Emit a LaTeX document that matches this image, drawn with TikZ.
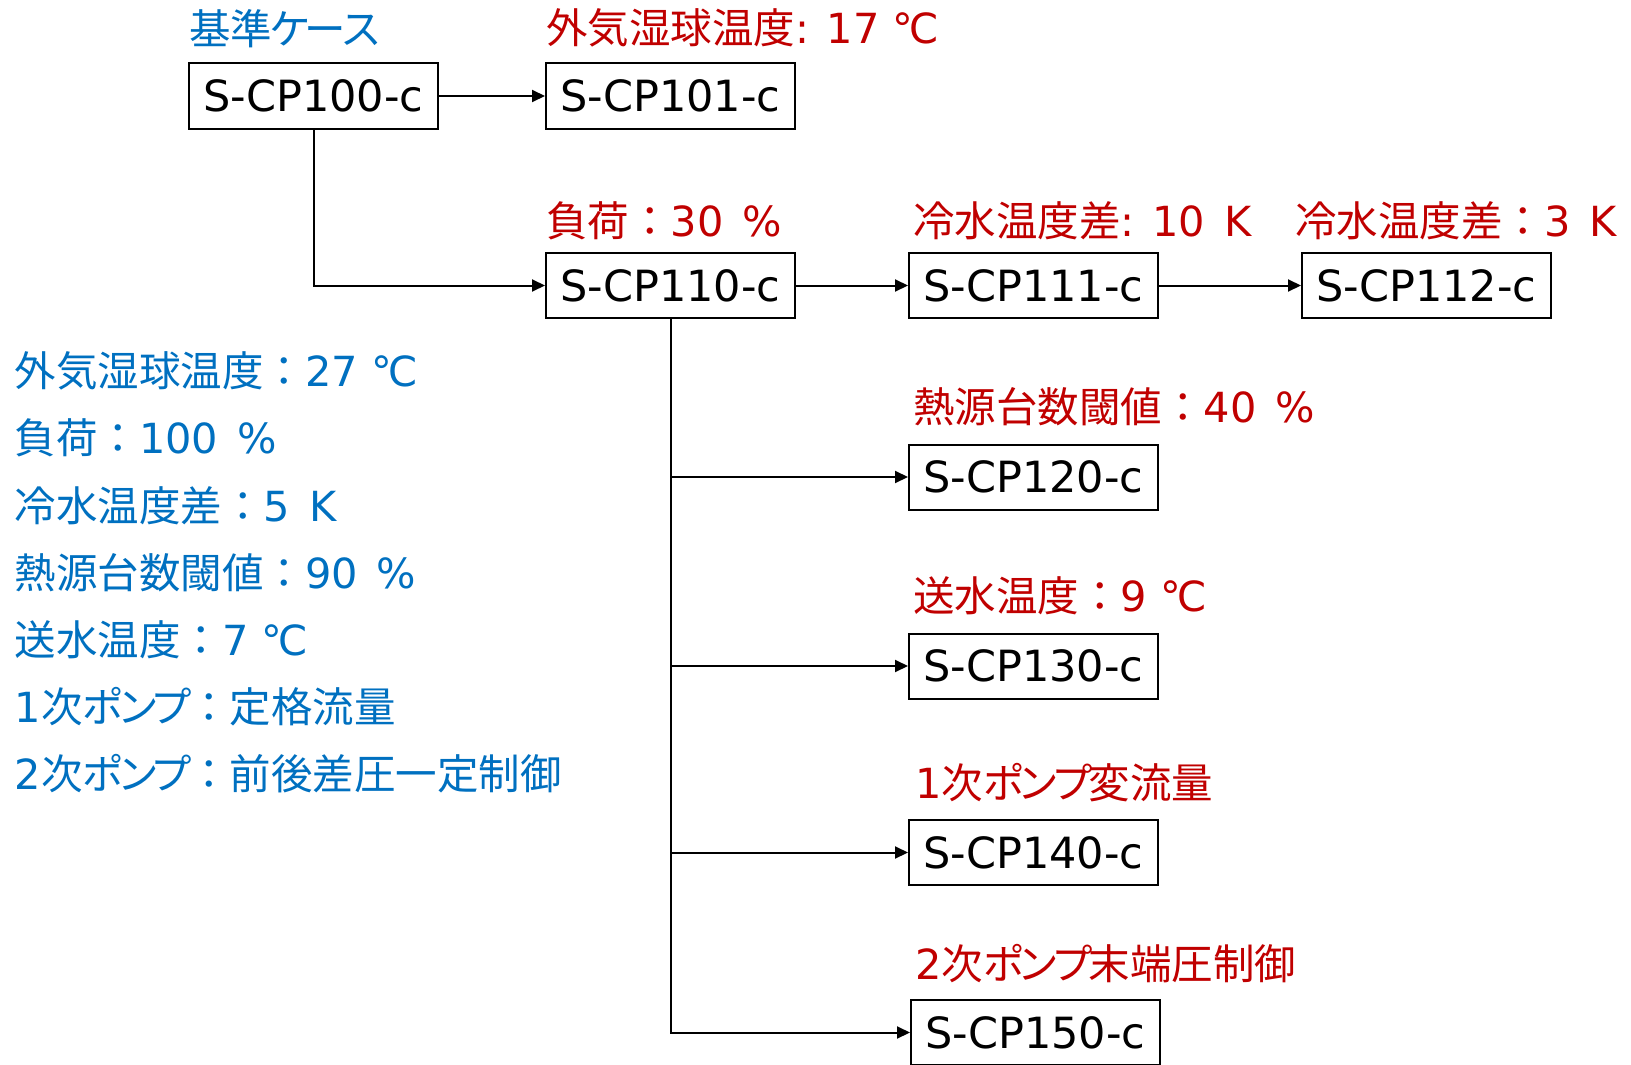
\documentclass[tikz,border=0pt]{standalone}
\usepackage{fontspec}
\setmainfont{Noto Sans CJK JP}
\newfontfamily\lat{DejaVu Sans}
\usetikzlibrary{arrows.meta}
\definecolor{lblblue}{HTML}{0070C0}
\definecolor{lblred}{HTML}{C00000}
\newcommand{\latp}[1]{{\lat #1}}
\newcommand{\wsp}{\hspace{19pt}}
\newcommand{\pump}{ポ\kern-7ptン\kern-8ptプ\kern-4pt}
\tikzset{
  casebox/.style={draw=black, line width=2pt, fill=white, minimum width=249pt, minimum height=65pt, inner sep=0pt, font=\lat\fontsize{43}{50}\selectfont},
  conn/.style={line width=2pt, -{Triangle[length=13pt,width=12pt]}},
  redlbl/.style={anchor=west, inner sep=0pt, text=lblred, font=\fontsize{41.5}{48}\selectfont},
  bluelbl/.style={anchor=west, inner sep=0pt, text=lblblue, font=\fontsize{41.5}{48}\selectfont}
}
\begin{document}
\begin{tikzpicture}[x=1pt,y=-1pt]
\useasboundingbox (0,0) rectangle (1631,1065);
% boxes
\node[casebox] (b100) at (313.5,96) {S-CP100-c};
\node[casebox] (b101) at (670.5,96) {S-CP101-c};
\node[casebox] (b110) at (670.5,285.5) {S-CP110-c};
\node[casebox] (b111) at (1033.5,285.5) {S-CP111-c};
\node[casebox] (b112) at (1426.5,285.5) {S-CP112-c};
\node[casebox] (b120) at (1033.5,477) {S-CP120-c};
\node[casebox] (b130) at (1033.5,666) {S-CP130-c};
\node[casebox] (b140) at (1033.5,852.5) {S-CP140-c};
\node[casebox] (b150) at (1035.5,1032.5) {S-CP150-c};
% labels
\node[bluelbl] (lbase) at (189,28.5) {基準\kern-3ptケ\kern-6ptー\kern-6ptス};
\node[redlbl] (l101) at (546,28) {外気湿球温度\latp{: 17 ℃}};
\node[redlbl] (l110) at (546,221) {負荷：\latp{30\wsp\%}};
\node[redlbl] (l111) at (913,221) {冷水温度差\latp{: 10\wsp K}};
\node[redlbl] (l112) at (1295,221) {冷水温度差：\latp{3\wsp K}};
\node[redlbl] (l120) at (913,407) {熱源台数閾値：\latp{40\wsp\%}};
\node[redlbl] (l130) at (913,596) {送水温度：\latp{9 ℃}};
\node[redlbl] (l140) at (915,783) {\latp{1}次\pump 変流量};
\node[redlbl] (l150) at (915,964) {\latp{2}次\pump 末端圧制御};
% base conditions
\node[bluelbl] (c1) at (14.5,371) {外気湿球温度：\latp{27 ℃}};
\node[bluelbl] (c2) at (14.5,438) {負荷：\latp{100\wsp\%}};
\node[bluelbl] (c3) at (14.5,505.5) {冷水温度差：\latp{5\wsp K}};
\node[bluelbl] (c4) at (14.5,573) {熱源台数閾値：\latp{90\wsp\%}};
\node[bluelbl] (c5) at (14.5,640) {送水温度：\latp{7 ℃}};
\node[bluelbl] (c6) at (14.5,707) {\latp{1}次\pump ：定格流量};
\node[bluelbl] (c7) at (14.5,774) {\latp{2}次\pump ：前後差圧一定制御};
% connectors
\draw[conn] (b100) -- (b101);
\draw[conn] (b100.south) |- (b110.west);
\draw[conn] (b110) -- (b111);
\draw[conn] (b111) -- (b112);
\draw[conn] (b110.south) |- (b120.west);
\draw[conn] (b110.south) |- (b130.west);
\draw[conn] (b110.south) |- (b140.west);
\draw[conn] (b110.south) |- (b150.west);
\end{tikzpicture}
\end{document}
